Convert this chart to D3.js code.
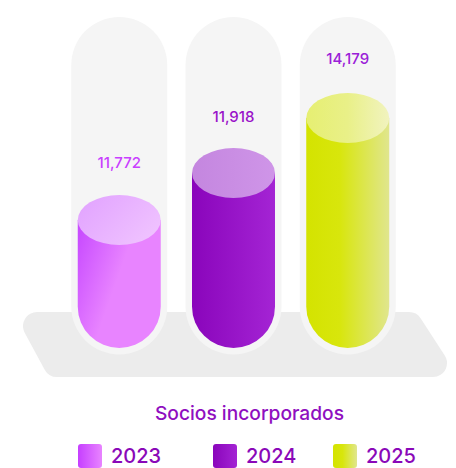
<!DOCTYPE html>
<html><head><meta charset="utf-8">
<script src="https://cdn.jsdelivr.net/npm/d3@7/dist/d3.min.js"></script>
<style>html,body{margin:0;padding:0;background:#fff}svg{display:block}text{font-family:"Inter","Noto Sans",sans-serif}</style>
</head><body><div id="c"></div>
<script>
const years = ["2023","2024","2025"];
const values = [11772,11918,14179];
const valueLabels = ["11,772","11,918","14,179"];
const title = "Socios incorporados";

const W=456,H=468;
const svg=d3.select("#c").append("svg").attr("width",W).attr("height",H);
const defs=svg.append("defs");
function grad(id,x1,y1,x2,y2,stops){
  const g=defs.append("linearGradient").attr("id",id).attr("x1",x1).attr("y1",y1).attr("x2",x2).attr("y2",y2);
  stops.forEach(s=>g.append("stop").attr("offset",s[0]).attr("stop-color",s[1]));
}
grad("b0",0,0.15,1,0.7,[[0,"#c94dff"],[0.5,"#e884ff"],[1,"#e884ff"]]);
grad("b1",0,0,1,0,[[0,"#8a05bb"],[1,"#a424d4"]]);
grad("b2",0,0,1,0,[[0,"#d4e300"],[0.4,"#d8e60c"],[1,"#e0e68e"]]);
grad("t0",0,0.2,1,0.8,[[0,"#e2a4ff"],[1,"#f0c4ff"]]);
grad("t1",0,0,1,0,[[0,"#c486df"],[1,"#cf95e8"]]);
grad("t2",0,0,1,0,[[0,"#e6ef72"],[0.5,"#e9f088"],[1,"#f1f3bf"]]);
grad("l0",0,0,1,0,[[0,"#c63fff"],[1,"#e884ff"]]);
grad("l1",0,0,1,0,[[0,"#8a05bb"],[1,"#a424d4"]]);
grad("l2",0,0,1,0,[[0,"#d4e300"],[0.4,"#d8e60c"],[1,"#e0e68e"]]);

// the picture's heights are not proportional, so the value scale is piecewise
const y=d3.scaleLinear().domain(values).range([220,173,118]);
const xs=d3.scaleOrdinal().domain(years).range([119.25,233.5,347.75]);
const floorY=348, rx=41.5, ry=25, tubeR=48, tubeTop=17, tubeBottom=354.5;
const labelColor=d3.scaleOrdinal().domain(years).range(["#c93fff","#9a12c9","#9a20d8"]);

// platform
const platform=[[37,326],[409,326],[433,363],[57,363]];
svg.append("path").attr("d",d3.line()(platform)+"Z").attr("fill","#ececec").attr("stroke","#ececec").attr("stroke-width",28).attr("stroke-linejoin","round");

const g=svg.selectAll("g.col").data(years.map((k,i)=>({k,i,v:values[i],l:valueLabels[i]}))).join("g").attr("class","col");

// tube
g.append("rect").attr("x",d=>xs(d.k)-tubeR).attr("y",tubeTop).attr("width",tubeR*2).attr("height",tubeBottom-tubeTop).attr("rx",tubeR).attr("ry",tubeR).attr("fill","#f5f5f5");
// liquid
g.append("path").attr("d",d=>{
  const c=xs(d.k),t=y(d.v);
  return `M${c-rx},${t}L${c-rx},${floorY-rx}A${rx},${rx} 0 0 0 ${c+rx},${floorY-rx}L${c+rx},${t}Z`;
}).attr("fill",d=>`url(#b${d.i})`);
g.append("ellipse").attr("cx",d=>xs(d.k)).attr("cy",d=>y(d.v)).attr("rx",rx).attr("ry",ry).attr("fill",d=>`url(#t${d.i})`);
// values
const labelGap=[52,51,54];
g.append("text").attr("x",d=>xs(d.k)).attr("y",d=>y(d.v)-labelGap[d.i]).attr("text-anchor","middle").attr("font-size",15).attr("font-weight",500).attr("fill",d=>labelColor(d.k)).text(d=>d.l);

svg.append("text").attr("x",249.5).attr("y",420).attr("text-anchor","middle").attr("font-size",19.2).attr("font-weight",500).attr("fill","#8f0fc0").text(title);

// legend
const legendX=d3.scaleOrdinal().domain(years).range([78,213,333]);
const lg=svg.selectAll("g.leg").data(years.map((k,i)=>({k,i}))).join("g").attr("class","leg");
lg.append("rect").attr("x",d=>legendX(d.k)).attr("y",444).attr("width",24).attr("height",24).attr("rx",3).attr("fill",d=>`url(#l${d.i})`);
lg.append("text").attr("x",d=>legendX(d.k)+33).attr("y",463).attr("font-size",20).attr("font-weight",500).attr("fill","#8a08b8").text(d=>d.k);
</script></body></html>
